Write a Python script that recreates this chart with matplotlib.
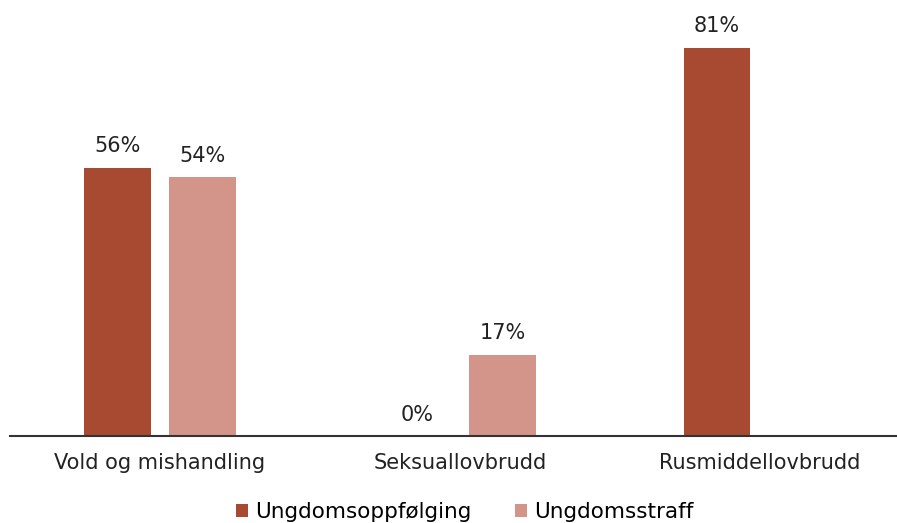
import matplotlib
matplotlib.use("Agg")
import matplotlib.pyplot as plt
import numpy as np

categories = ["Vold og mishandling", "Seksuallovbrudd", "Rusmiddellovbrudd"]
series_names = ["Ungdomsoppfølging", "Ungdomsstraff"]
oppfolging = [56, 0, 81]
straff = [54, 17, None]
colors = ["#A84A31", "#D3948A"]

plt.rcParams['font.family'] = ['DejaVu Sans']

fig = plt.figure(figsize=(8.97, 5.23), dpi=100)
ax = fig.add_axes([10/897, (523-436)/523, 887/897, 436/523])

x = np.arange(len(categories))
w = 0.223
off = 0.143
for vals, sign, col, name in [(oppfolging, -1, colors[0], series_names[0]),
                              (straff, 1, colors[1], series_names[1])]:
    xs = [xi + sign*off for xi, v in zip(x, vals) if v is not None]
    vs = [v for v in vals if v is not None]
    ax.bar(xs, vs, width=w, color=col, label=name)
    for xi, v in zip(xs, vs):
        ax.text(xi, v + 2.4, f"{v}%", ha="center", va="bottom", fontsize=15, color="#222222")

ax.set_xlim(-0.5, 2.457)
ax.set_ylim(0, 91)
for s in ["top", "right", "left"]:
    ax.spines[s].set_visible(False)
ax.spines["bottom"].set_color("#333333")
ax.spines["bottom"].set_linewidth(1.5)
ax.set_yticks([])
ax.set_xticks(x)
ax.set_xticklabels(categories, fontsize=15, color="#222222")
ax.tick_params(axis="x", length=0, pad=12)

fig.legend(loc="lower center", bbox_to_anchor=(0.518, -0.035), ncol=2, frameon=False,
           fontsize=15.5, handlelength=0.55, handleheight=0.55, handletextpad=0.35,
           columnspacing=2.0)

fig.savefig("out.png", dpi=100)
